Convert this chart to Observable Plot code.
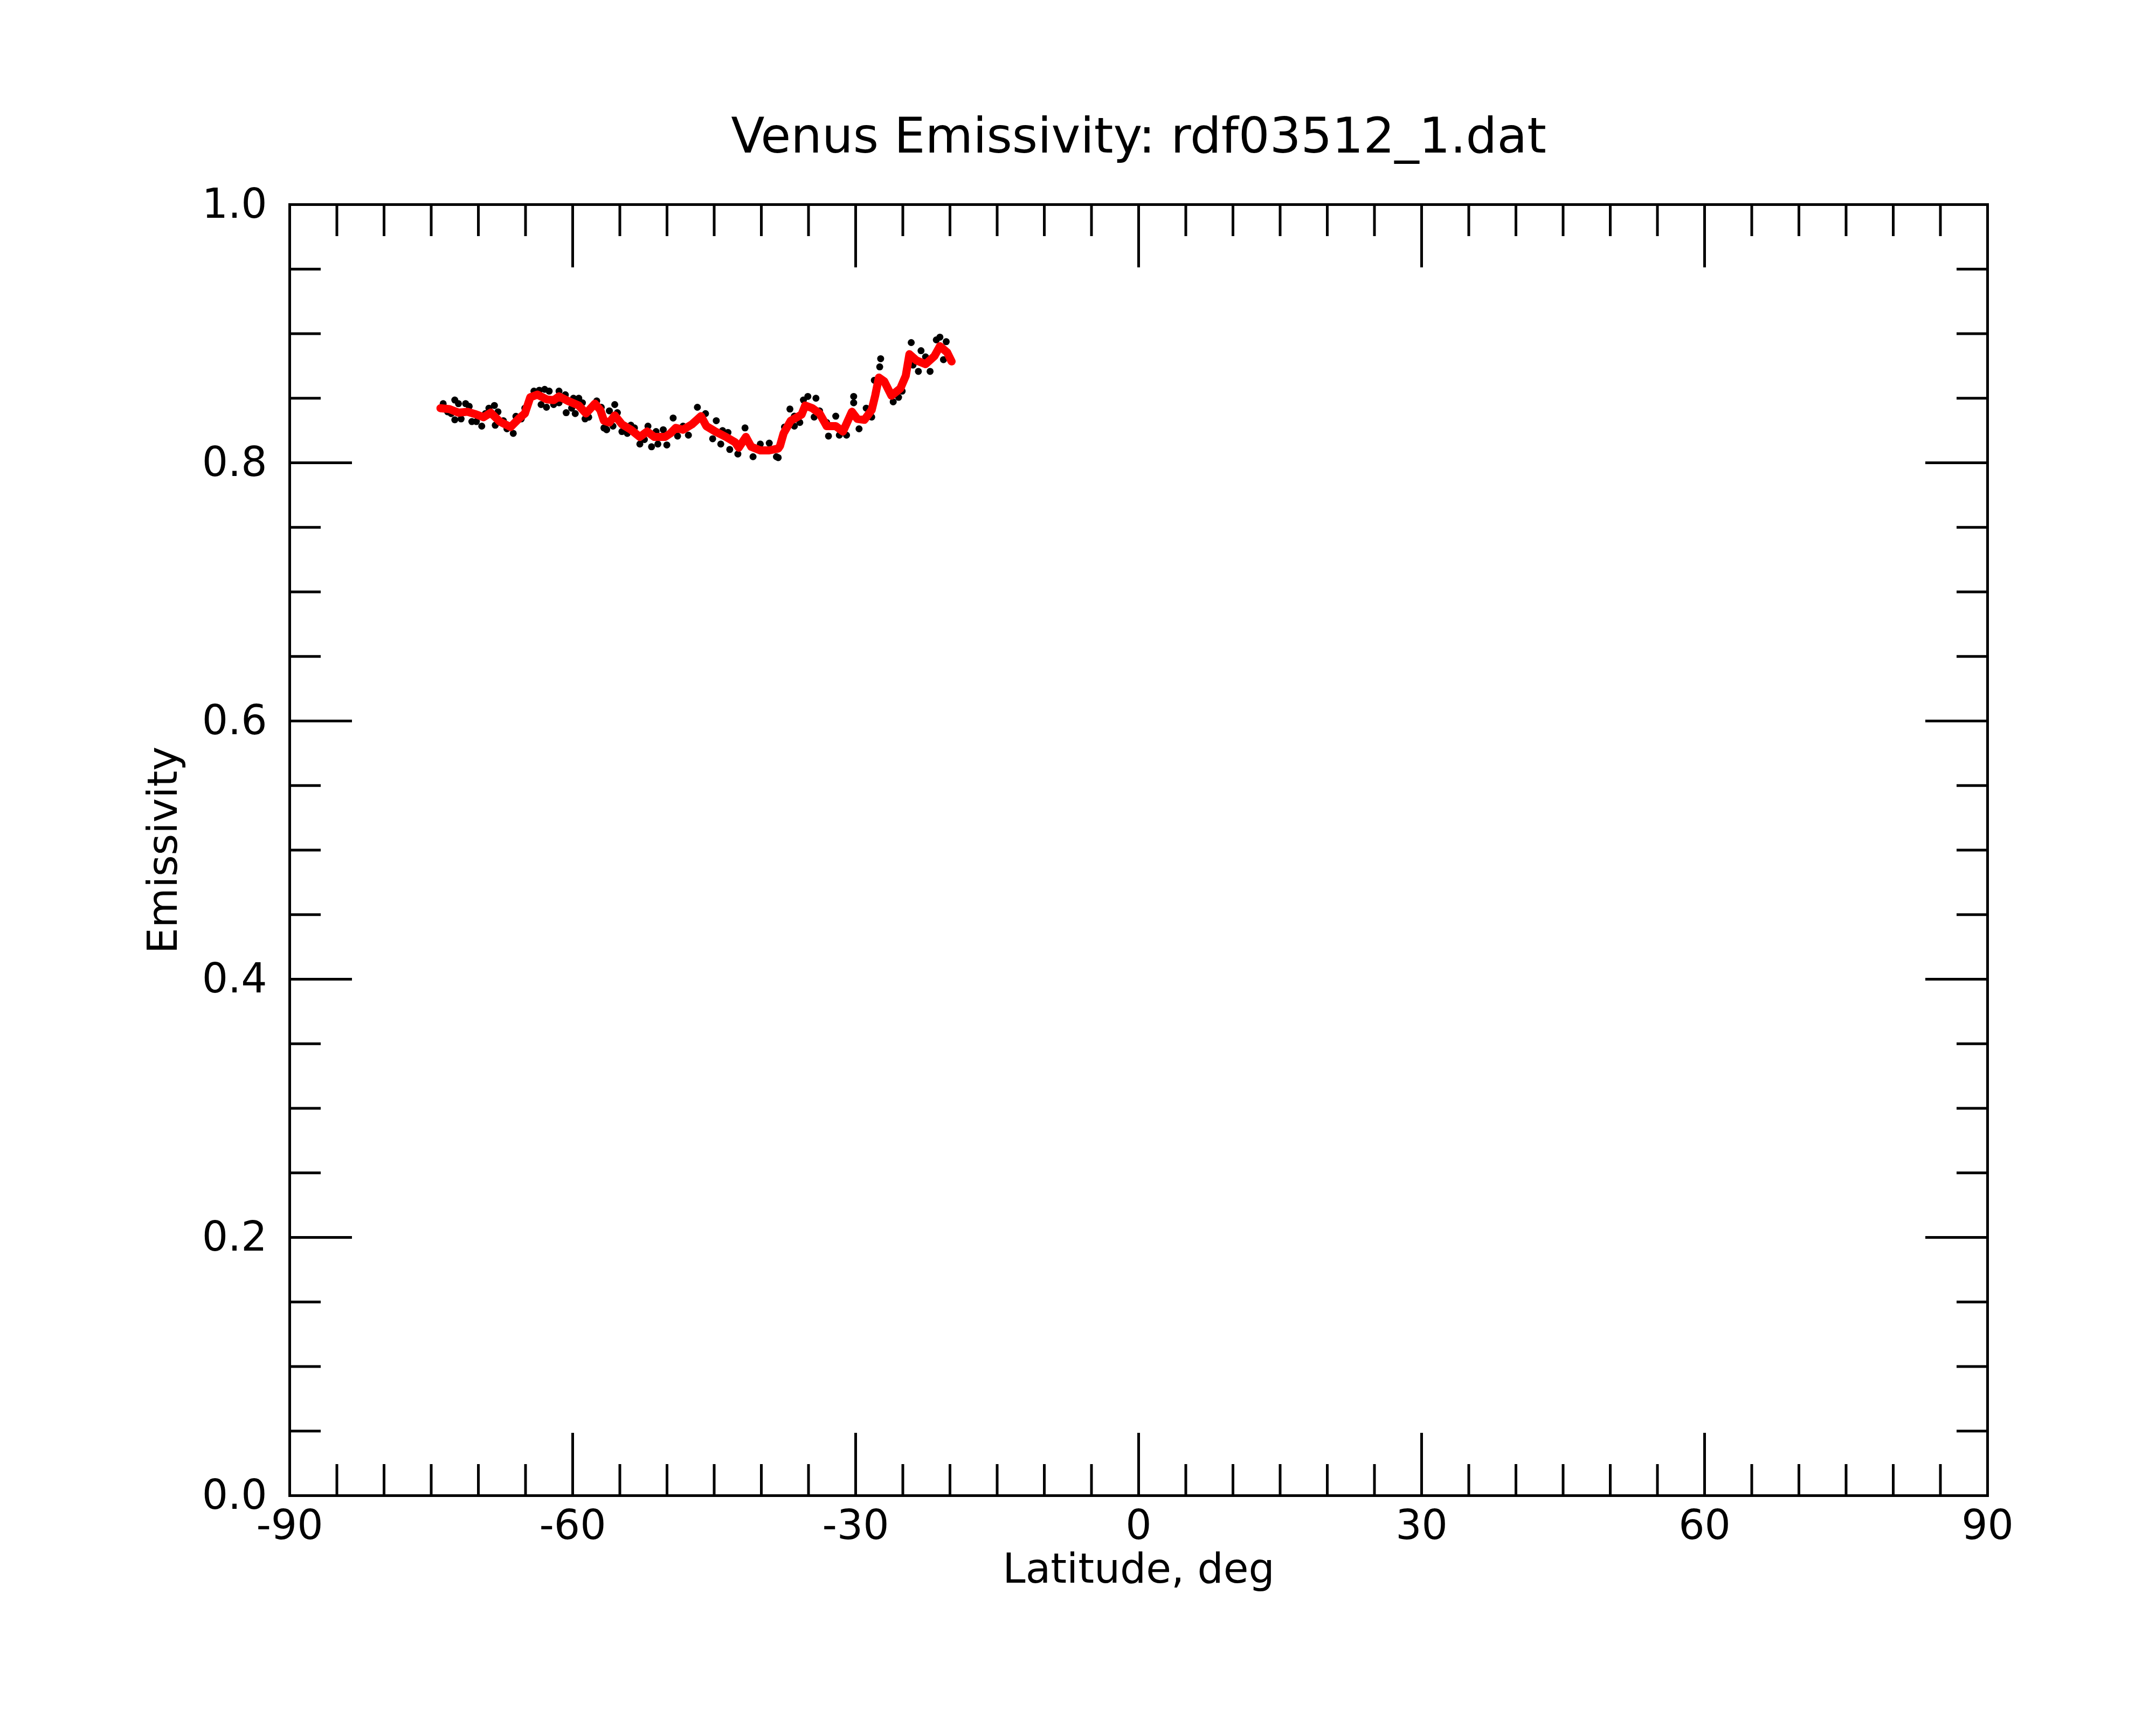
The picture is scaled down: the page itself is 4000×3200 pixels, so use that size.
<!DOCTYPE html>
<html>
<head>
<meta charset="utf-8">
<script src="https://cdn.jsdelivr.net/npm/d3@7"></script>
<script src="https://cdn.jsdelivr.net/npm/@observablehq/plot@0.6"></script>
<style>
  html, body { margin: 0; padding: 0; background: #fff; }
</style>
</head>
<body>
<div id="chart"></div>
<script>
const titleText = "Venus Emissivity: rdf03512_1.dat";
const xLabelText = "Latitude, deg";
const yLabelText = "Emissivity";

const xMajorTicks = [-90, -60, -30, 0, 30, 60, 90];
const xMinorTicks = [-90,-85,-80,-75,-70,-65,-60,-55,-50,-45,-40,-35,-30,-25,-20,-15,-10,-5,0,5,10,15,20,25,30,35,40,45,50,55,60,65,70,75,80,85,90];
const yMajorTicks = [0, 0.2, 0.4, 0.6, 0.8, 1.0];
const yMinorTicks = [0,0.05,0.1,0.15,0.2,0.25,0.3,0.35,0.4,0.45,0.5,0.55,0.6,0.65,0.7,0.75,0.8,0.85,0.9,0.95,1.0];

// smoothed (red) curve
const redLat = [-74.02,-73.07,-72.11,-71.16,-70.21,-69.45,-68.69,-67.73,-66.59,-65.64,-65.07,-64.5,-63.74,-62.78,-62.02,-61.45,-60.5,-59.36,-58.59,-57.64,-57.07,-56.69,-56.11,-55.54,-54.78,-53.83,-52.88,-52.11,-51.35,-50.21,-49.64,-49.07,-48.30,-47.35,-46.4,-45.83,-44.88,-43.74,-42.78,-42.4,-41.64,-41.07,-40.11,-39.16,-38.21,-38.02,-37.64,-36.88,-35.73,-35.35,-34.59,-33.83,-33.07,-32.11,-31.35,-30.4,-29.83,-29.07,-28.3,-27.93,-27.54,-26.97,-26.21,-25.26,-24.69,-24.30,-23.54,-22.59,-21.64,-21.07,-20.30,-19.83];
const redEmis = [0.8423,0.8416,0.8388,0.8395,0.8374,0.8353,0.8388,0.8319,0.8277,0.8347,0.8382,0.8507,0.8528,0.8492,0.8485,0.8514,0.8479,0.8444,0.8382,0.8458,0.8409,0.8326,0.8312,0.8367,0.8298,0.8256,0.8200,0.8242,0.8200,0.8200,0.8228,0.8270,0.8256,0.8298,0.8361,0.8284,0.8242,0.8200,0.8159,0.8117,0.8200,0.8124,0.8096,0.8096,0.8110,0.8131,0.8228,0.8326,0.8374,0.8444,0.8423,0.8382,0.8284,0.8284,0.8242,0.8395,0.8340,0.8333,0.8409,0.8520,0.8660,0.8631,0.8520,0.8576,0.8673,0.8841,0.8792,0.8764,0.8827,0.8903,0.8855,0.8785];

// raw measurements (black)
const blackLat = [-73.73,-73.26,-72.88,-72.50,-72.50,-72.11,-71.83,-71.35,-70.97,-70.69,-70.21,-69.64,-69.26,-68.88,-68.30,-68.21,-67.92,-67.35,-66.97,-66.30,-66.02,-65.45,-65.07,-64.11,-63.54,-62.97,-62.49,-63.35,-62.78,-62.02,-61.45,-61.45,-60.78,-60.69,-60.11,-59.73,-59.92,-59.35,-58.97,-58.69,-58.30,-57.45,-56.97,-56.69,-56.40,
  -56.50,-56.11,-55.54,-55.26,-55.73,-54.78,-54.21,-53.83,-53.45,-52.88,-52.40,-52.02,-51.64,-51.16,-50.97,-50.40,-50.02,-49.35,-48.88,-48.30,-47.73,-46.78,-45.92,-45.16,-44.78,-44.30,-44.11,-43.54,-43.35,-42.49,-41.73,-40.88,-40.11,-39.16,-38.40,
  -38.21,-37.54,-36.97,-36.50,-36.50,-35.92,-35.54,-35.07,-34.21,-34.40,-33.83,-33.07,-32.88,-32.11,-31.73,-30.97,-30.21,-30.21,-29.64,-28.88,-28.30,-27.35,-27.45,-28.02,-26.02,-25.45,-25.07,-24.11,-23.92,-23.35,-23.07,-22.59,-22.11,-21.45,-21.07,-20.59,-20.40,-20.69];
const blackEmis = [0.8458,0.8395,0.8381,0.8486,0.8333,0.8458,0.8340,0.8458,0.8437,0.8319,0.8319,0.8284,0.8381,0.8423,0.8444,0.8291,0.8395,0.8326,0.8263,0.8228,0.8360,0.8340,0.8423,0.8555,0.8562,0.8569,0.8555,0.8451,0.8430,0.8451,0.8555,0.8465,0.8527,0.8388,0.8423,0.8381,0.8500,0.8500,0.8465,0.8340,0.8353,0.8479,0.8430,0.8270,0.8256,
  0.8263,0.8402,0.8451,0.8388,0.8284,0.8242,0.8228,0.8291,0.8270,0.8145,0.8180,0.8284,0.8124,0.8242,0.8145,0.8256,0.8138,0.8347,0.8207,0.8284,0.8214,0.8430,0.8381,0.8186,0.8326,0.8145,0.8249,0.8235,0.8103,0.8068,0.8270,0.8047,0.8145,0.8152,0.8047,
  0.8040,0.8277,0.8416,0.8361,0.8284,0.8312,0.8486,0.8514,0.8500,0.8354,0.8402,0.8312,0.8207,0.8361,0.8214,0.8214,0.8514,0.8465,0.8263,0.8423,0.8354,0.8806,0.8743,0.8639,0.8472,0.8507,0.8555,0.8931,0.8757,0.8708,0.8868,0.8820,0.8708,0.8952,0.8973,0.8875,0.8938,0.8799];

const red = redLat.map((x, i) => ({x, y: redEmis[i]}));
const black = blackLat.map((x, i) => ({x, y: blackEmis[i]}));

const font = "DejaVu Sans";
const fs = 76;
const sw = 5;

const chart = Plot.plot({
  width: 4000,
  height: 3200,
  marginLeft: 537,
  marginRight: 313,
  marginTop: 379,
  marginBottom: 426,
  style: {fontFamily: font, fontSize: fs + "px", background: "white", color: "black"},
  x: {domain: [-90, 90], axis: null},
  y: {domain: [0, 1], axis: null},
  marks: [
    // inward ticks
    Plot.axisX(xMinorTicks, {anchor: "bottom", tickSize: -58, strokeWidth: sw, tickFormat: () => "", label: null}),
    Plot.axisX(xMajorTicks, {anchor: "bottom", tickSize: -116, strokeWidth: sw, tickFormat: () => "", label: null}),
    Plot.axisX(xMinorTicks, {anchor: "top", tickSize: -58, strokeWidth: sw, tickFormat: () => "", label: null}),
    Plot.axisX(xMajorTicks, {anchor: "top", tickSize: -116, strokeWidth: sw, tickFormat: () => "", label: null}),
    Plot.axisY(yMinorTicks, {anchor: "left", tickSize: -58, strokeWidth: sw, tickFormat: () => "", label: null}),
    Plot.axisY(yMajorTicks, {anchor: "left", tickSize: -116, strokeWidth: sw, tickFormat: () => "", label: null}),
    Plot.axisY(yMinorTicks, {anchor: "right", tickSize: -58, strokeWidth: sw, tickFormat: () => "", label: null}),
    Plot.axisY(yMajorTicks, {anchor: "right", tickSize: -116, strokeWidth: sw, tickFormat: () => "", label: null}),
    // labels
    Plot.axisX(xMajorTicks, {anchor: "bottom", tickSize: 0, tickPadding: 27, tickFormat: d => String(d), fontSize: fs, label: null}),
    Plot.axisY(yMajorTicks, {anchor: "left", tickSize: 0, tickPadding: 42, tickFormat: d => d.toFixed(1), fontSize: fs, label: null}),
    Plot.frame({stroke: "black", strokeWidth: sw}),
    // data
    Plot.dot(black, {x: "x", y: "y", r: 6.5, fill: "black", stroke: "none"}),
    Plot.line(red, {x: "x", y: "y", stroke: "red", strokeWidth: 15, strokeLinecap: "round", strokeLinejoin: "round"}),
    // texts
    Plot.text([titleText], {frameAnchor: "top", lineAnchor: "bottom", dy: -97, fontSize: 91, fill: "black"}),
    Plot.text([xLabelText], {frameAnchor: "bottom", lineAnchor: "bottom", dy: 161, fontSize: fs, fill: "black"}),
    Plot.text([yLabelText], {frameAnchor: "left", textAnchor: "middle", lineAnchor: "bottom", rotate: -90, dx: -210, fontSize: fs, fill: "black"})
  ]
});
document.getElementById("chart").appendChild(chart);
</script>
</body>
</html>
